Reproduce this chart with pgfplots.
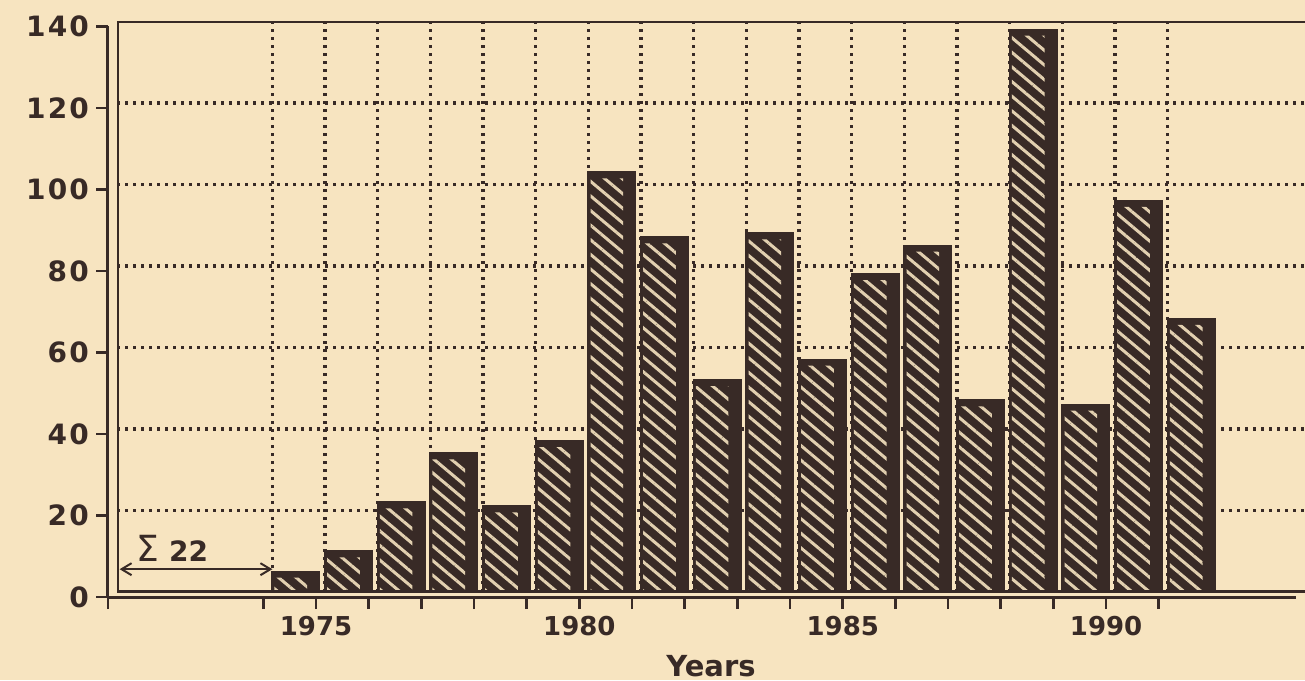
\documentclass[border=0pt]{standalone}
\usepackage{fontspec}
\setmainfont{DejaVu Sans}
\newfontfamily\ytfont[LetterSpace=8]{DejaVu Sans}
\usepackage{pgfplots}
\pgfplotsset{compat=1.18}
\usepackage{pgfplotstable}
\usetikzlibrary{patterns.meta,arrows.meta}
\definecolor{paper}{RGB}{247,228,192}
\definecolor{ink}{RGB}{56,42,38}
\definecolor{stripe}{RGB}{226,208,176}

\pgfplotstableread{
year value
1974 5
1975 10
1976 22
1977 34
1978 21
1979 37
1980 103
1981 87
1982 52
1983 88
1984 57
1985 78
1986 85
1987 47
1988 138
1989 46
1990 96
1991 67
}\bars

\begin{document}
\begin{tikzpicture}
\path[use as bounding box, fill=paper] (-58.5pt,-44pt) rectangle (594pt,296pt);
\begin{axis}[
  at={(0pt,0pt)}, anchor=south west,
  scale only axis, width=594pt, height=285.25pt,
  xmin=1971.05, xmax=1993.606, ymin=0, ymax=140,
  axis line style={draw=none},
  xtick={1974,...,1991}, ytick={20,40,...,120},
  xticklabels={}, yticklabels={},
  major tick length=0pt,
  grid=major,
  major grid style={ink, line width=1.6pt, dash pattern=on 1.6pt off 2.4pt},
  ybar, bar width=0.89,
  clip=true,
]
\addplot[ybar, bar width=0.89, bar shift=0.445, fill=ink, draw=ink, line width=1pt] table[x=year,y=value]{\bars};
\addplot[ybar, bar width=0.62, bar shift=0.35, draw=none, yshift=-3pt, pattern={Lines[angle=-40,distance=5.6pt,line width=1.5pt]}, pattern color=stripe] table[x=year,y=value]{\bars};
\draw[ink, line width=1.8pt] (rel axis cs:0,0) -- (rel axis cs:0,1) -- (rel axis cs:1,1);
\draw[ink, line width=2pt] (rel axis cs:0,0) -- (rel axis cs:1,0);
\draw[ink, line width=1pt, {Straight Barb[length=5pt,width=6pt]}-{Straight Barb[length=5pt,width=6pt]}] (axis cs:1971.1,5.6) -- (axis cs:1974,5.6);
\node[text=ink, inner sep=0pt, anchor=base] at (axis cs:1972.1,7.6) {{\fontsize{18pt}{20pt}\selectfont Σ}\hspace{5pt}{\bfseries\fontsize{14pt}{16pt}\selectfont 22}};
\end{axis}
\begin{axis}[
  at={(-4.5pt,-2.5pt)}, anchor=south west,
  scale only axis, width=594pt, height=285.25pt,
  xmin=1971.05, xmax=1993.606, ymin=0, ymax=140,
  axis x line=bottom, axis y line=left,
  axis line style={-, ink, line width=1.5pt},
  xtick={1971.05,1974,1975,...,1991},
  xticklabels={{},{},1975,{},{},{},{},1980,{},{},{},{},1985,{},{},{},{},1990,{}},
  ytick={0,20,...,140},
  tick align=outside, major tick length=6pt,
  tick style={ink, line width=1.4pt},
  /pgf/number format/assume math mode=true,
  yticklabel style={font=\ytfont\bfseries\fontsize{14pt}{16pt}\selectfont, text=ink},
  xticklabel style={font=\bfseries\fontsize{13pt}{15pt}\selectfont, text=ink},
]
\end{axis}
\node[font=\bfseries\fontsize{14.5pt}{16pt}\selectfont, text=ink, anchor=base] at (297pt,-42pt) {Years};
\end{tikzpicture}
\end{document}
